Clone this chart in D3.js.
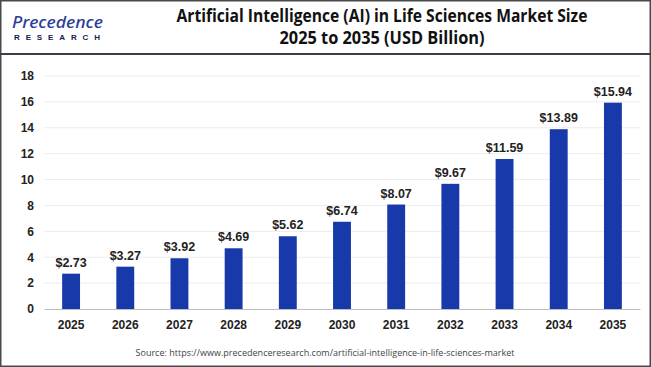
<!DOCTYPE html>
<html>
<head>
<meta charset="utf-8">
<script src="https://cdn.jsdelivr.net/npm/d3@7"></script>
<style>
html,body{margin:0;padding:0;background:#fff;}
svg{display:block;}
</style>
</head>
<body>
<svg id="chart" width="651" height="367"></svg>
<script>
const years = ["2025","2026","2027","2028","2029","2030","2031","2032","2033","2034","2035"];
const values = [2.73,3.27,3.92,4.69,5.62,6.74,8.07,9.67,11.59,13.89,15.94];
const yTicks = [0,2,4,6,8,10,12,14,16,18];
const titleLines = ["Artificial Intelligence (AI) in Life Sciences Market Size","2025 to 2035 (USD Billion)"];
const sourceText = "Source: https://www.precedenceresearch.com/artificial-intelligence-in-life-sciences-market";

const W = 651, H = 367;
const svg = d3.select("#chart");
const barColor = "#1739aa";
const font = "'Liberation Sans', Arial, sans-serif";

// outer border
svg.append("rect").attr("x",0.75).attr("y",0.75).attr("width",W-1.5).attr("height",H-1.5)
  .attr("fill","#fff").attr("stroke","#4a4a4a").attr("stroke-width",1.5);
// header divider
svg.append("line").attr("x1",0).attr("x2",W).attr("y1",54).attr("y2",54)
  .attr("stroke","#3c3c4c").attr("stroke-width",2);

// logo
svg.append("text").attr("x",12).attr("y",27.5)
  .attr("font-family","'Noto Sans', sans-serif").attr("font-style","italic").attr("font-weight",500)
  .attr("font-size",16).attr("fill","#2b3f9a").attr("textLength",91).attr("lengthAdjust","spacingAndGlyphs")
  .text("Precedence");
svg.append("text").attr("x",14).attr("y",39.5)
  .attr("font-family",font).attr("font-weight",700).attr("font-size",8).attr("fill","#15204f")
  .attr("textLength",86).attr("lengthAdjust","spacing")
  .text("RESEARCH");

// title
svg.selectAll("text.title").data(titleLines).join("text").attr("class","title")
  .attr("x",382).attr("y",(d,i)=>22+i*21.5)
  .attr("text-anchor","middle")
  .attr("font-family","'Open Sans', sans-serif").attr("font-weight",700).attr("font-size",17)
  .attr("fill","#111")
  .attr("textLength",(d,i)=> i===0 ? 411 : 205).attr("lengthAdjust","spacingAndGlyphs")
  .text(d=>d);

// scales
const x = d3.scaleBand().domain(years).range([44,640]).paddingInner(0.67).paddingOuter(0.335);
const y = d3.scaleLinear().domain([0,18]).range([309,76]);

// gridlines
svg.append("g").selectAll("line").data(yTicks.filter(t=>t>0)).join("line")
  .attr("x1",44).attr("x2",640).attr("y1",d=>y(d)).attr("y2",d=>y(d))
  .attr("stroke","#ececec").attr("stroke-width",1);

// y axis
const yAxis = d3.axisLeft(y).tickValues(yTicks).tickSize(0).tickPadding(0).tickFormat(d3.format("d"));
const gy = svg.append("g").attr("transform","translate(34,0)").call(yAxis);
gy.select(".domain").remove();
gy.selectAll("text").attr("font-family",font).attr("font-weight",700).attr("font-size",12).attr("fill","#222");

// bars
svg.append("g").selectAll("rect").data(values).join("rect")
  .attr("x",(d,i)=>x(years[i])).attr("width",x.bandwidth())
  .attr("y",d=>y(d)).attr("height",d=>y(0)-y(d))
  .attr("fill",barColor);

// x axis
const xAxis = d3.axisBottom(x).tickSize(0).tickPadding(11);
const gx = svg.append("g").attr("transform","translate(0,309)").call(xAxis);
gx.select(".domain").attr("stroke","#bdbdbd").attr("stroke-width",1.2);
gx.selectAll("text").attr("font-family",font).attr("font-weight",700).attr("font-size",12).attr("fill","#222");

// value labels
svg.append("g").selectAll("text").data(values).join("text")
  .attr("x",(d,i)=>x(years[i])+x.bandwidth()/2).attr("y",d=>y(d)-7)
  .attr("text-anchor","middle")
  .attr("font-family",font).attr("font-weight",700).attr("font-size",12.5).attr("fill","#222")
  .text(d=>"$"+d.toFixed(2));

// source
svg.append("text").attr("x",325).attr("y",356).attr("text-anchor","middle")
  .attr("font-family","'Open Sans', sans-serif").attr("font-size",9.5).attr("fill","#444")
  .attr("textLength",379).attr("lengthAdjust","spacingAndGlyphs")
  .text(sourceText);
</script>
</body>
</html>
